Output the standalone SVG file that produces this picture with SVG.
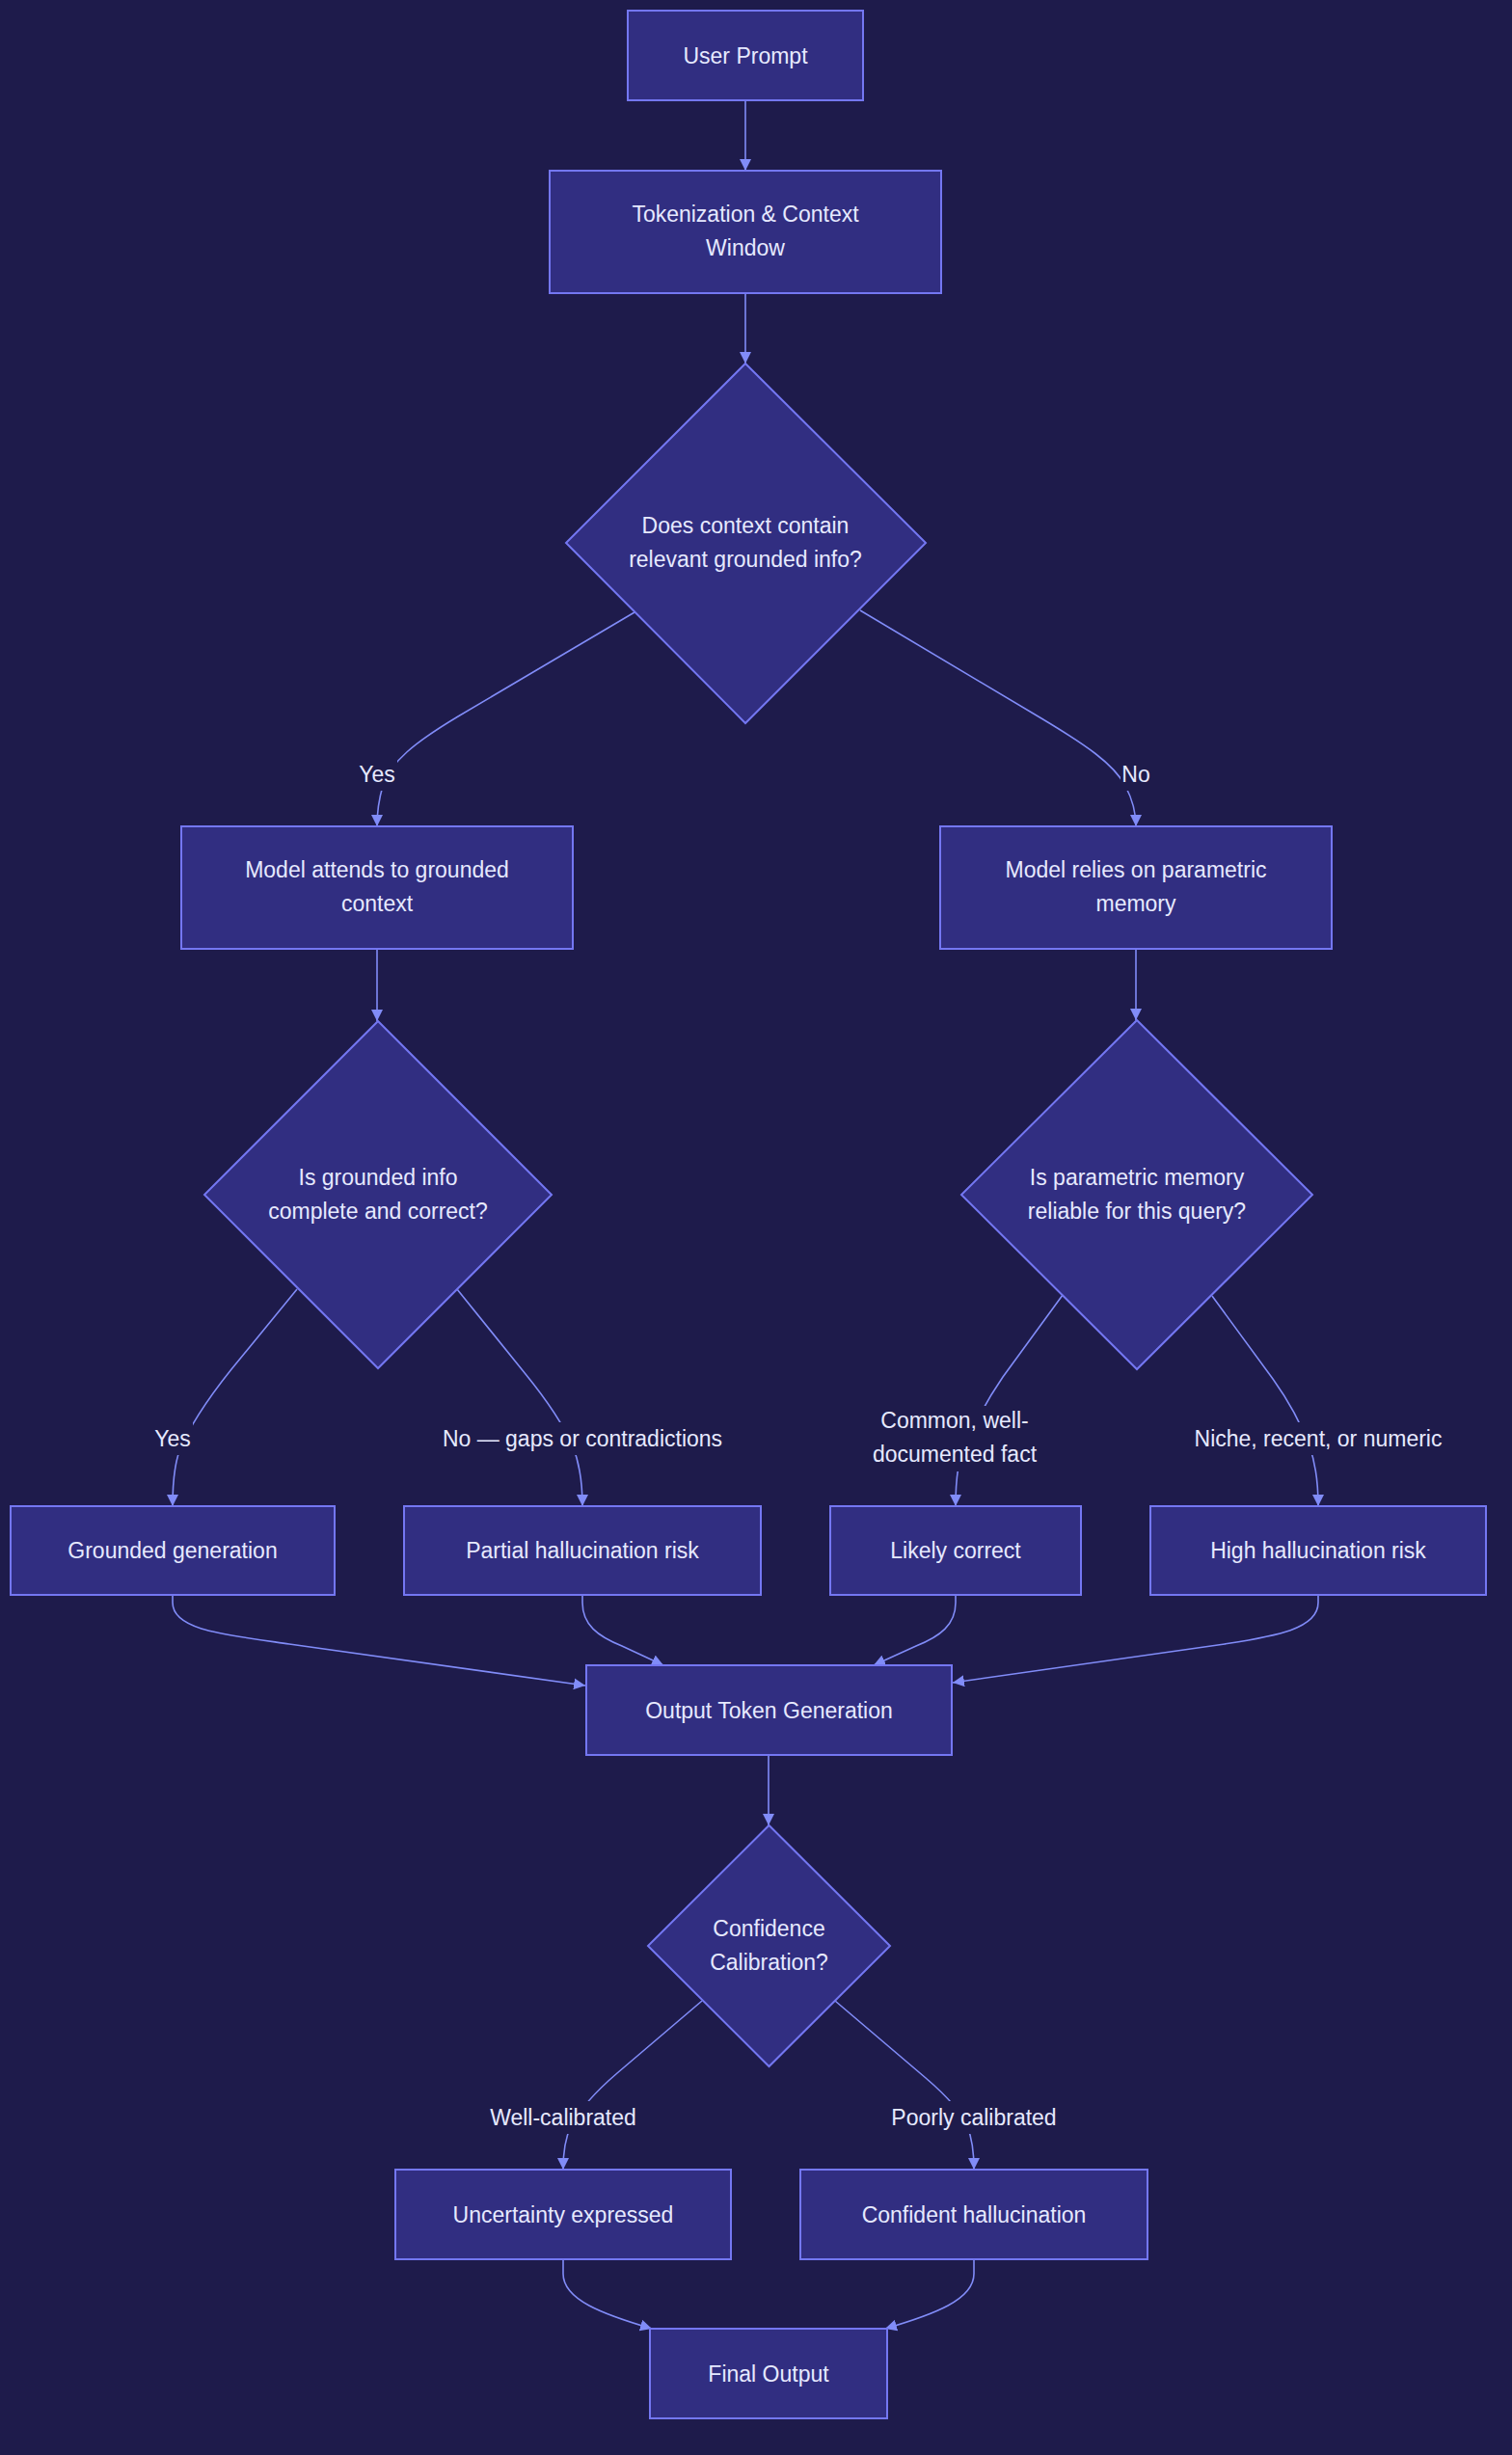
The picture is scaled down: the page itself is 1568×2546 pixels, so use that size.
<svg xmlns="http://www.w3.org/2000/svg" width="1568" height="2546" viewBox="0 0 1568 2546">
<style>
.n{fill:#312e81;stroke:#7477f2;stroke-width:2}
.t{font-family:"Liberation Sans",Arial,sans-serif;font-size:23px;fill:#e6e9ff;text-anchor:middle}
.e{fill:none;stroke:#818cf8;stroke-width:1.6}
.lb{fill:#1e1b4b}
</style>
<defs>
<marker id="ah" viewBox="0 0 10 10" refX="10" refY="5" markerWidth="12" markerHeight="12" markerUnits="userSpaceOnUse" orient="auto">
<path d="M0,0 L10,5 L0,10 z" fill="#818cf8"/>
</marker>
</defs>
<rect width="1568" height="2546" fill="#1e1b4b"/>
<g id="connectors">
<path class="e" marker-end="url(#ah)" d="M773 104 L773 177"/>
<path class="e" marker-end="url(#ah)" d="M773 304 L773 377"/>
<path class="e" marker-end="url(#ah)" d="M658 635 L475 743 C430 770 405 790 397 815 C392 832 391 845 391 857"/>
<path class="e" marker-end="url(#ah)" d="M892 633 L1080 745 C1125 772 1155 792 1167 815 C1176 832 1178 845 1178 857"/>
<path class="e" marker-end="url(#ah)" d="M391 984 L391 1059"/>
<path class="e" marker-end="url(#ah)" d="M1178 984 L1178 1058"/>
<path class="e" marker-end="url(#ah)" d="M308 1337 L240 1420 Q200 1470 186 1505 Q179 1525 179 1562"/>
<path class="e" marker-end="url(#ah)" d="M474 1337 L545 1425 Q580 1468 594 1500 Q604 1525 604 1562"/>
<path class="e" marker-end="url(#ah)" d="M1102 1343 L1040 1428 Q1018 1460 1000 1500 Q991 1520 991 1562"/>
<path class="e" marker-end="url(#ah)" d="M1257 1344 L1320 1430 Q1345 1465 1358 1500 Q1367 1525 1367 1562"/>
<path class="e" marker-end="url(#ah)" d="M179 1654 L179 1662 C179 1690 230 1695 300 1705 L607 1748"/>
<path class="e" marker-end="url(#ah)" d="M604 1654 L604 1662 C604 1685 620 1697 645 1707 L688 1727"/>
<path class="e" marker-end="url(#ah)" d="M991 1654 L991 1662 C991 1685 975 1697 950 1707 L906 1727"/>
<path class="e" marker-end="url(#ah)" d="M1367 1654 L1367 1662 C1367 1690 1320 1697 1270 1705 L988 1745"/>
<path class="e" marker-end="url(#ah)" d="M797 1820 L797 1893"/>
<path class="e" marker-end="url(#ah)" d="M728 2075 L640 2150 Q605 2180 592 2205 Q584 2222 584 2250"/>
<path class="e" marker-end="url(#ah)" d="M866 2075 L960 2155 Q995 2185 1003 2205 Q1010 2222 1010 2250"/>
<path class="e" marker-end="url(#ah)" d="M584 2343 L584 2358 C584 2385 625 2400 676 2415"/>
<path class="e" marker-end="url(#ah)" d="M1010 2343 L1010 2358 C1010 2385 969 2400 918 2415"/>
<g id="edge-labels">
<rect class="lb" x="370" y="786" width="42" height="34"/><text class="t" x="391" y="811">Yes</text>
<rect class="lb" x="1162" y="786" width="34" height="34"/><text class="t" x="1178" y="811">No</text>
<rect class="lb" x="158" y="1475" width="42" height="34"/><text class="t" x="179" y="1500">Yes</text>
<rect class="lb" x="459" y="1475" width="290" height="34"/><text class="t" x="604" y="1500">No — gaps or contradictions</text>
<rect class="lb" x="906" y="1458" width="168" height="68"/><text class="t" x="990" y="1481">Common, well-</text><text class="t" x="990" y="1516">documented fact</text>
<rect class="lb" x="1230" y="1475" width="274" height="34"/><text class="t" x="1367" y="1500">Niche, recent, or numeric</text>
<rect class="lb" x="503" y="2179" width="162" height="34"/><text class="t" x="584" y="2204">Well-calibrated</text>
<rect class="lb" x="920" y="2179" width="180" height="34"/><text class="t" x="1010" y="2204">Poorly calibrated</text>
</g>
</g>
<g id="user-prompt"><rect class="n" x="651" y="11" width="244" height="93"/><text class="t" x="773" y="65.5">User Prompt</text></g>
<g id="tokenization"><rect class="n" x="570" y="177" width="406" height="127"/><text class="t" x="773" y="230">Tokenization &amp; Context</text><text class="t" x="773" y="265">Window</text></g>
<g id="context-decision"><polygon class="n" points="773,377 960,563 773,750 587,563"/><text class="t" x="773" y="553">Does context contain</text><text class="t" x="773" y="588">relevant grounded info?</text></g>
<g id="model-attends"><rect class="n" x="188" y="857" width="406" height="127"/><text class="t" x="391" y="910">Model attends to grounded</text><text class="t" x="391" y="945">context</text></g>
<g id="model-relies"><rect class="n" x="975" y="857" width="406" height="127"/><text class="t" x="1178" y="910">Model relies on parametric</text><text class="t" x="1178" y="945">memory</text></g>
<g id="grounded-decision"><polygon class="n" points="392,1059 572,1239 392,1419 212,1239"/><text class="t" x="392" y="1229">Is grounded info</text><text class="t" x="392" y="1264">complete and correct?</text></g>
<g id="parametric-decision"><polygon class="n" points="1179,1058 1361,1239 1179,1420 997,1239"/><text class="t" x="1179" y="1229">Is parametric memory</text><text class="t" x="1179" y="1264">reliable for this query?</text></g>
<g id="grounded-generation"><rect class="n" x="11" y="1562" width="336" height="92"/><text class="t" x="179" y="1616">Grounded generation</text></g>
<g id="partial-risk"><rect class="n" x="419" y="1562" width="370" height="92"/><text class="t" x="604" y="1616">Partial hallucination risk</text></g>
<g id="likely-correct"><rect class="n" x="861" y="1562" width="260" height="92"/><text class="t" x="991" y="1616">Likely correct</text></g>
<g id="high-risk"><rect class="n" x="1193" y="1562" width="348" height="92"/><text class="t" x="1367" y="1616">High hallucination risk</text></g>
<g id="output-generation"><rect class="n" x="608" y="1727" width="379" height="93"/><text class="t" x="797.5" y="1781.5">Output Token Generation</text></g>
<g id="confidence-decision"><polygon class="n" points="797.5,1893 923,2018 797.5,2143 672,2018"/><text class="t" x="797.5" y="2008">Confidence</text><text class="t" x="797.5" y="2043">Calibration?</text></g>
<g id="uncertainty"><rect class="n" x="410" y="2250" width="348" height="93"/><text class="t" x="584" y="2304.5">Uncertainty expressed</text></g>
<g id="confident-hallucination"><rect class="n" x="830" y="2250" width="360" height="93"/><text class="t" x="1010" y="2304.5">Confident hallucination</text></g>
<g id="final-output"><rect class="n" x="674" y="2415" width="246" height="93"/><text class="t" x="797" y="2469.5">Final Output</text></g>
</svg>
